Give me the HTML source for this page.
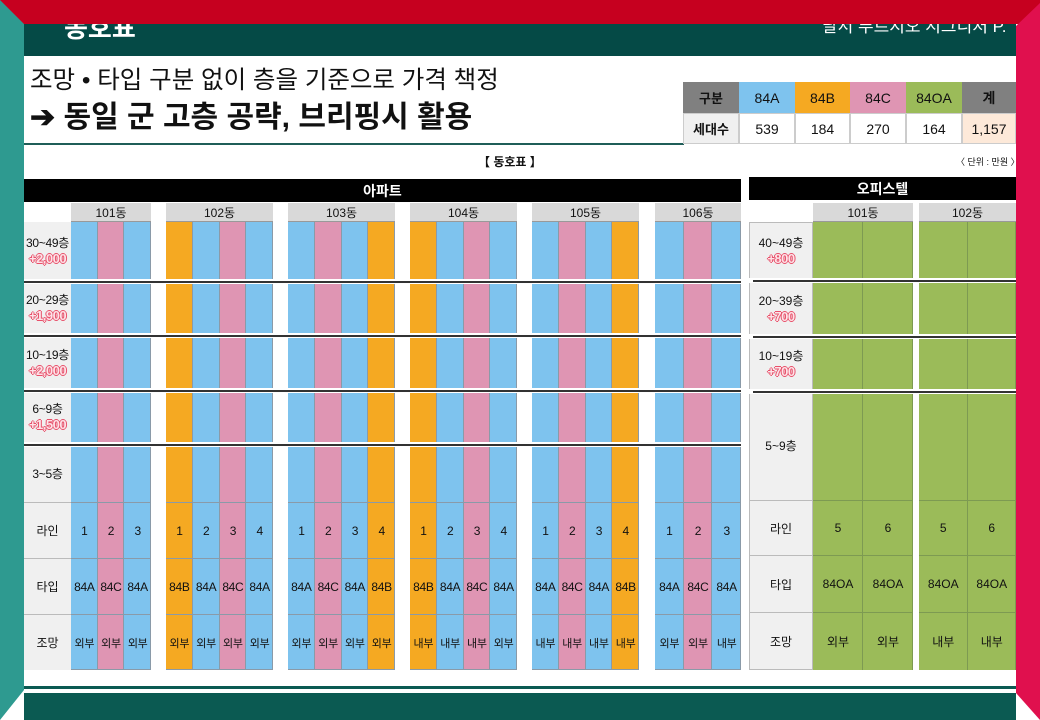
<!DOCTYPE html>
<html><head><meta charset="utf-8">
<style>
*{margin:0;padding:0;box-sizing:border-box}
body{width:1040px;height:720px;overflow:hidden;background:#fff;position:relative;font-family:"Liberation Sans","Noto Sans CJK KR",sans-serif;color:#111}
.a{position:absolute}
.c{position:absolute;display:flex;align-items:center;justify-content:center;text-align:center}
.prem{color:#fde3e8;font-weight:bold;font-size:13px;text-shadow:1px 0 #e8506a,-1px 0 #e8506a,0 1px #e8506a,0 -1px #e8506a;letter-spacing:-0.5px}
</style></head><body>
<div id="root"></div>
<script>
// ---- data ----
const aptBuildings=['101동','102동','103동','104동','105동','106동'];
const aptTypes=[['84A','84C','84A'],['84B','84A','84C','84A'],['84A','84C','84A','84B'],['84B','84A','84C','84A'],['84A','84C','84A','84B'],['84A','84C','84A']];
const aptViews=[['외부','외부','외부'],['외부','외부','외부','외부'],['외부','외부','외부','외부'],['내부','내부','내부','외부'],['내부','내부','내부','내부'],['외부','외부','내부']];
const aptFloors=['30~49층','20~29층','10~19층','6~9층','3~5층'];
const aptPremiums=['+2,000','+1,900','+2,000','+1,500',''];
const offBuildings=['101동','102동'];
const offLines=[['5','6'],['5','6']];
const offTypes=[['84OA','84OA'],['84OA','84OA']];
const offViews=[['외부','외부'],['내부','내부']];
const offFloors=['40~49층','20~39층','10~19층','5~9층'];
const offPremiums=['+800','+700','+700',''];
const sumTypes=['84A','84B','84C','84OA','계'];
const sumCounts=['539','184','270','164','1,157'];

const colors={'84A':'#7ec3ee','84B':'#f5a922','84C':'#df95b3','84OA':'#9bbb59'};
const root=document.getElementById('root');
function mk(cls,css,txt,name,inter){const d=document.createElement('div');d.className=cls;d.style.cssText=css;if(txt!==undefined)d.textContent=txt;


root.appendChild(d);return d;}

// frame
mk('a','left:0;top:0;width:1040px;height:720px;background:#fff','', 'page-background');
mk('a','left:24px;top:24px;width:992px;height:32px;background:#054a46','', 'header-band');
mk('a','left:64px;top:13px;font-size:26px;font-weight:bold;color:#fff;line-height:30px','동호표','header-title');
mk('a','left:822px;top:16px;font-size:17px;color:#fff;white-space:nowrap;line-height:22px','달서 푸르지오 시그니처 P.','header-project-name');
mk('a','left:0;top:0;width:1040px;height:24px;background:#c6001f','', 'top-red-bar');
mk('a','left:0;top:0;width:24px;height:720px;background:#2e9a90;clip-path:polygon(0 0,100% 24px,100% 690px,0 100%)','', 'left-teal-border');
mk('a','left:24px;top:693px;width:992px;height:27px;background:#0b5a52','', 'bottom-band');
mk('a','left:24px;top:686px;width:992px;height:3px;background:#0b5a52','', 'bottom-rule');
mk('a','left:1016px;top:0;width:24px;height:720px;background:#e0104e;clip-path:polygon(0 26px,100% 3px,100% 100%,0 693px)','', 'right-magenta-border');

// titles
mk('a','left:30px;top:66px;font-size:24.5px;line-height:30px;white-space:nowrap','조망 • 타입 구분 없이 층을 기준으로 가격 책정','subtitle');
mk('a','left:30px;top:100px;font-size:30px;font-weight:bold;line-height:36px;white-space:nowrap','➔ 동일 군 고층 공략, 브리핑시 활용','headline');
mk('a','left:24px;top:143px;width:660px;height:2px;background:#1f5e58','', 'title-rule');

// summary table
const sx=[683,739,795,850,906,962,1016];
mk('c','left:683px;top:82px;width:56px;height:31px;background:#808080;font-weight:bold;font-size:13px','구분','summary-header-label');
mk('c','left:683px;top:113px;width:56px;height:31px;background:#f0f0f0;font-weight:bold;font-size:13px;border:1px solid #ccc','세대수','summary-row-label');
sumTypes.forEach((t,i)=>{
 const bg=colors[t]||'#808080';
 mk('c',`left:${sx[i+1]}px;top:82px;width:${sx[i+2]-sx[i+1]}px;height:31px;background:${bg};font-size:14px;font-weight:${t==='계'?'bold':'normal'}`,t,'summary-type-'+t);
 mk('c',`left:${sx[i+1]}px;top:113px;width:${sx[i+2]-sx[i+1]}px;height:31px;background:${t==='계'?'#fde9d9':'#fff'};font-size:14px;border:1px solid #ccc`,sumCounts[i],'summary-count-'+t);
});

mk('a','left:478px;top:153px;font-size:12px;font-weight:bold;white-space:nowrap','【 동호표 】','table-caption');
mk('a','left:956px;top:155px;font-size:9px;white-space:nowrap','〈 단위 : 만원 〉','unit-note');

// apartment section
mk('c','left:24px;top:179px;width:717px;height:23px;background:#000;color:#fff;font-weight:bold;font-size:14px','아파트','apartment-banner');
const aptX=[[71,151],[166,273],[288,395],[410,517],[532,639],[655,741]];
const fTop=[222,283,337,393,446],fBot=[280,333,388,441,502];
const bRows=[[502,558],[558,614],[614,670]];
mk('a','left:24px;top:222px;width:47px;height:448px;background:#f0f0f0','', 'apt-row-label-column');
aptFloors.forEach((f,i)=>{
 const h=fBot[i]-fTop[i];
 const d=mk('c',`left:22px;top:${fTop[i]}px;width:51px;height:${h}px;flex-direction:column;font-size:12px;line-height:15px;letter-spacing:-0.3px`,'','apt-floor-label-'+i);
 const s=document.createElement('div');s.textContent=f;d.appendChild(s);
 
 
 if(aptPremiums[i]){const p=document.createElement('div');p.className='prem';p.textContent=aptPremiums[i];d.appendChild(p);
 
 }
});
['라인','타입','조망'].forEach((t,i)=>mk('c',`left:24px;top:${bRows[i][0]}px;width:47px;height:56px;font-size:12px;border-top:1px solid #bbb`,t,'apt-row-label-'+t));
aptBuildings.forEach((b,bi)=>{
 const [x0,x1]=aptX[bi];const n=aptTypes[bi].length;const w=(x1-x0)/n;
 mk('c',`left:${x0}px;top:203px;width:${x1-x0}px;height:19px;background:#d9d9d9;font-size:12px;border-bottom:1px solid #999`,b,'apt-building-'+b);
 aptTypes[bi].forEach((t,li)=>{
  const x=x0+li*w;
  mk('a',`left:${x}px;top:222px;width:${w}px;height:448px;background:${colors[t]};border-right:1px solid #8a9aa8`,'','apt-line-column');
  const vals=[String(li+1),t,aptViews[bi][li]];
  vals.forEach((v,ri)=>mk('c',`left:${x}px;top:${bRows[ri][0]}px;width:${w}px;height:56px;font-size:${ri===2?11:12}px;border-top:1px solid #8a9aa8;letter-spacing:-0.3px`,v,'apt-cell'));
 });
 mk('a',`left:${x0}px;top:669px;width:${x1-x0}px;height:1px;background:#8a9aa8`,'','apt-bottom-edge');
});
[281,335,390,444].forEach(y=>{
 mk('a',`left:24px;top:${y-2}px;width:717px;height:5px;background:#fff`,'','apt-floor-gap');
 mk('a',`left:24px;top:${y}px;width:717px;height:2px;background:#333`,'','apt-floor-separator');
});

// officetel section
mk('c','left:749px;top:177px;width:267px;height:23px;background:#000;color:#fff;font-weight:bold;font-size:14px','오피스텔','officetel-banner');
const offX=[[813,913],[919,1016]];
const oTop=[222,283,337,393],oBot=[279,335,390,500];
const oRows=[[500,555],[555,612],[612,670]];
mk('a','left:749px;top:222px;width:64px;height:448px;background:#f0f0f0;border:1px solid #bbb','', 'off-row-label-column');
offFloors.forEach((f,i)=>{
 const d=mk('c',`left:749px;top:${oTop[i]}px;width:64px;height:${oBot[i]-oTop[i]}px;flex-direction:column;font-size:12px;line-height:15px`,'','off-floor-label-'+i);
 const s=document.createElement('div');s.textContent=f;d.appendChild(s);
 
 
 if(offPremiums[i]){const p=document.createElement('div');p.className='prem';p.textContent=offPremiums[i];d.appendChild(p);
 
 }
});
['라인','타입','조망'].forEach((t,i)=>mk('c',`left:749px;top:${oRows[i][0]}px;width:64px;height:${oRows[i][1]-oRows[i][0]}px;font-size:12px;border-top:1px solid #bbb`,t,'off-row-label-'+t));
offBuildings.forEach((b,bi)=>{
 const [x0,x1]=offX[bi];const n=offTypes[bi].length;const w=(x1-x0)/n;
 mk('c',`left:${x0}px;top:203px;width:${x1-x0}px;height:19px;background:#d9d9d9;font-size:12px;border-bottom:1px solid #999`,b,'off-building-'+b);
 offTypes[bi].forEach((t,li)=>{
  const x=x0+li*w;
  mk('a',`left:${x}px;top:222px;width:${w}px;height:448px;background:${colors[t]};border-right:1px solid #7d9a52`,'','off-line-column');
  const vals=[offLines[bi][li],t,offViews[bi][li]];
  vals.forEach((v,ri)=>mk('c',`left:${x}px;top:${oRows[ri][0]}px;width:${w}px;height:${oRows[ri][1]-oRows[ri][0]}px;font-size:12px;border-top:1px solid #7d9a52`,v,'off-cell'));
 });
});
[280,336,391].forEach(y=>{
 mk('a',`left:749px;top:${y-2}px;width:267px;height:5px;background:#fff`,'','off-floor-gap');
 mk('a',`left:753px;top:${y}px;width:263px;height:2px;background:#333`,'','off-floor-separator');
});
</script>
</body></html>
